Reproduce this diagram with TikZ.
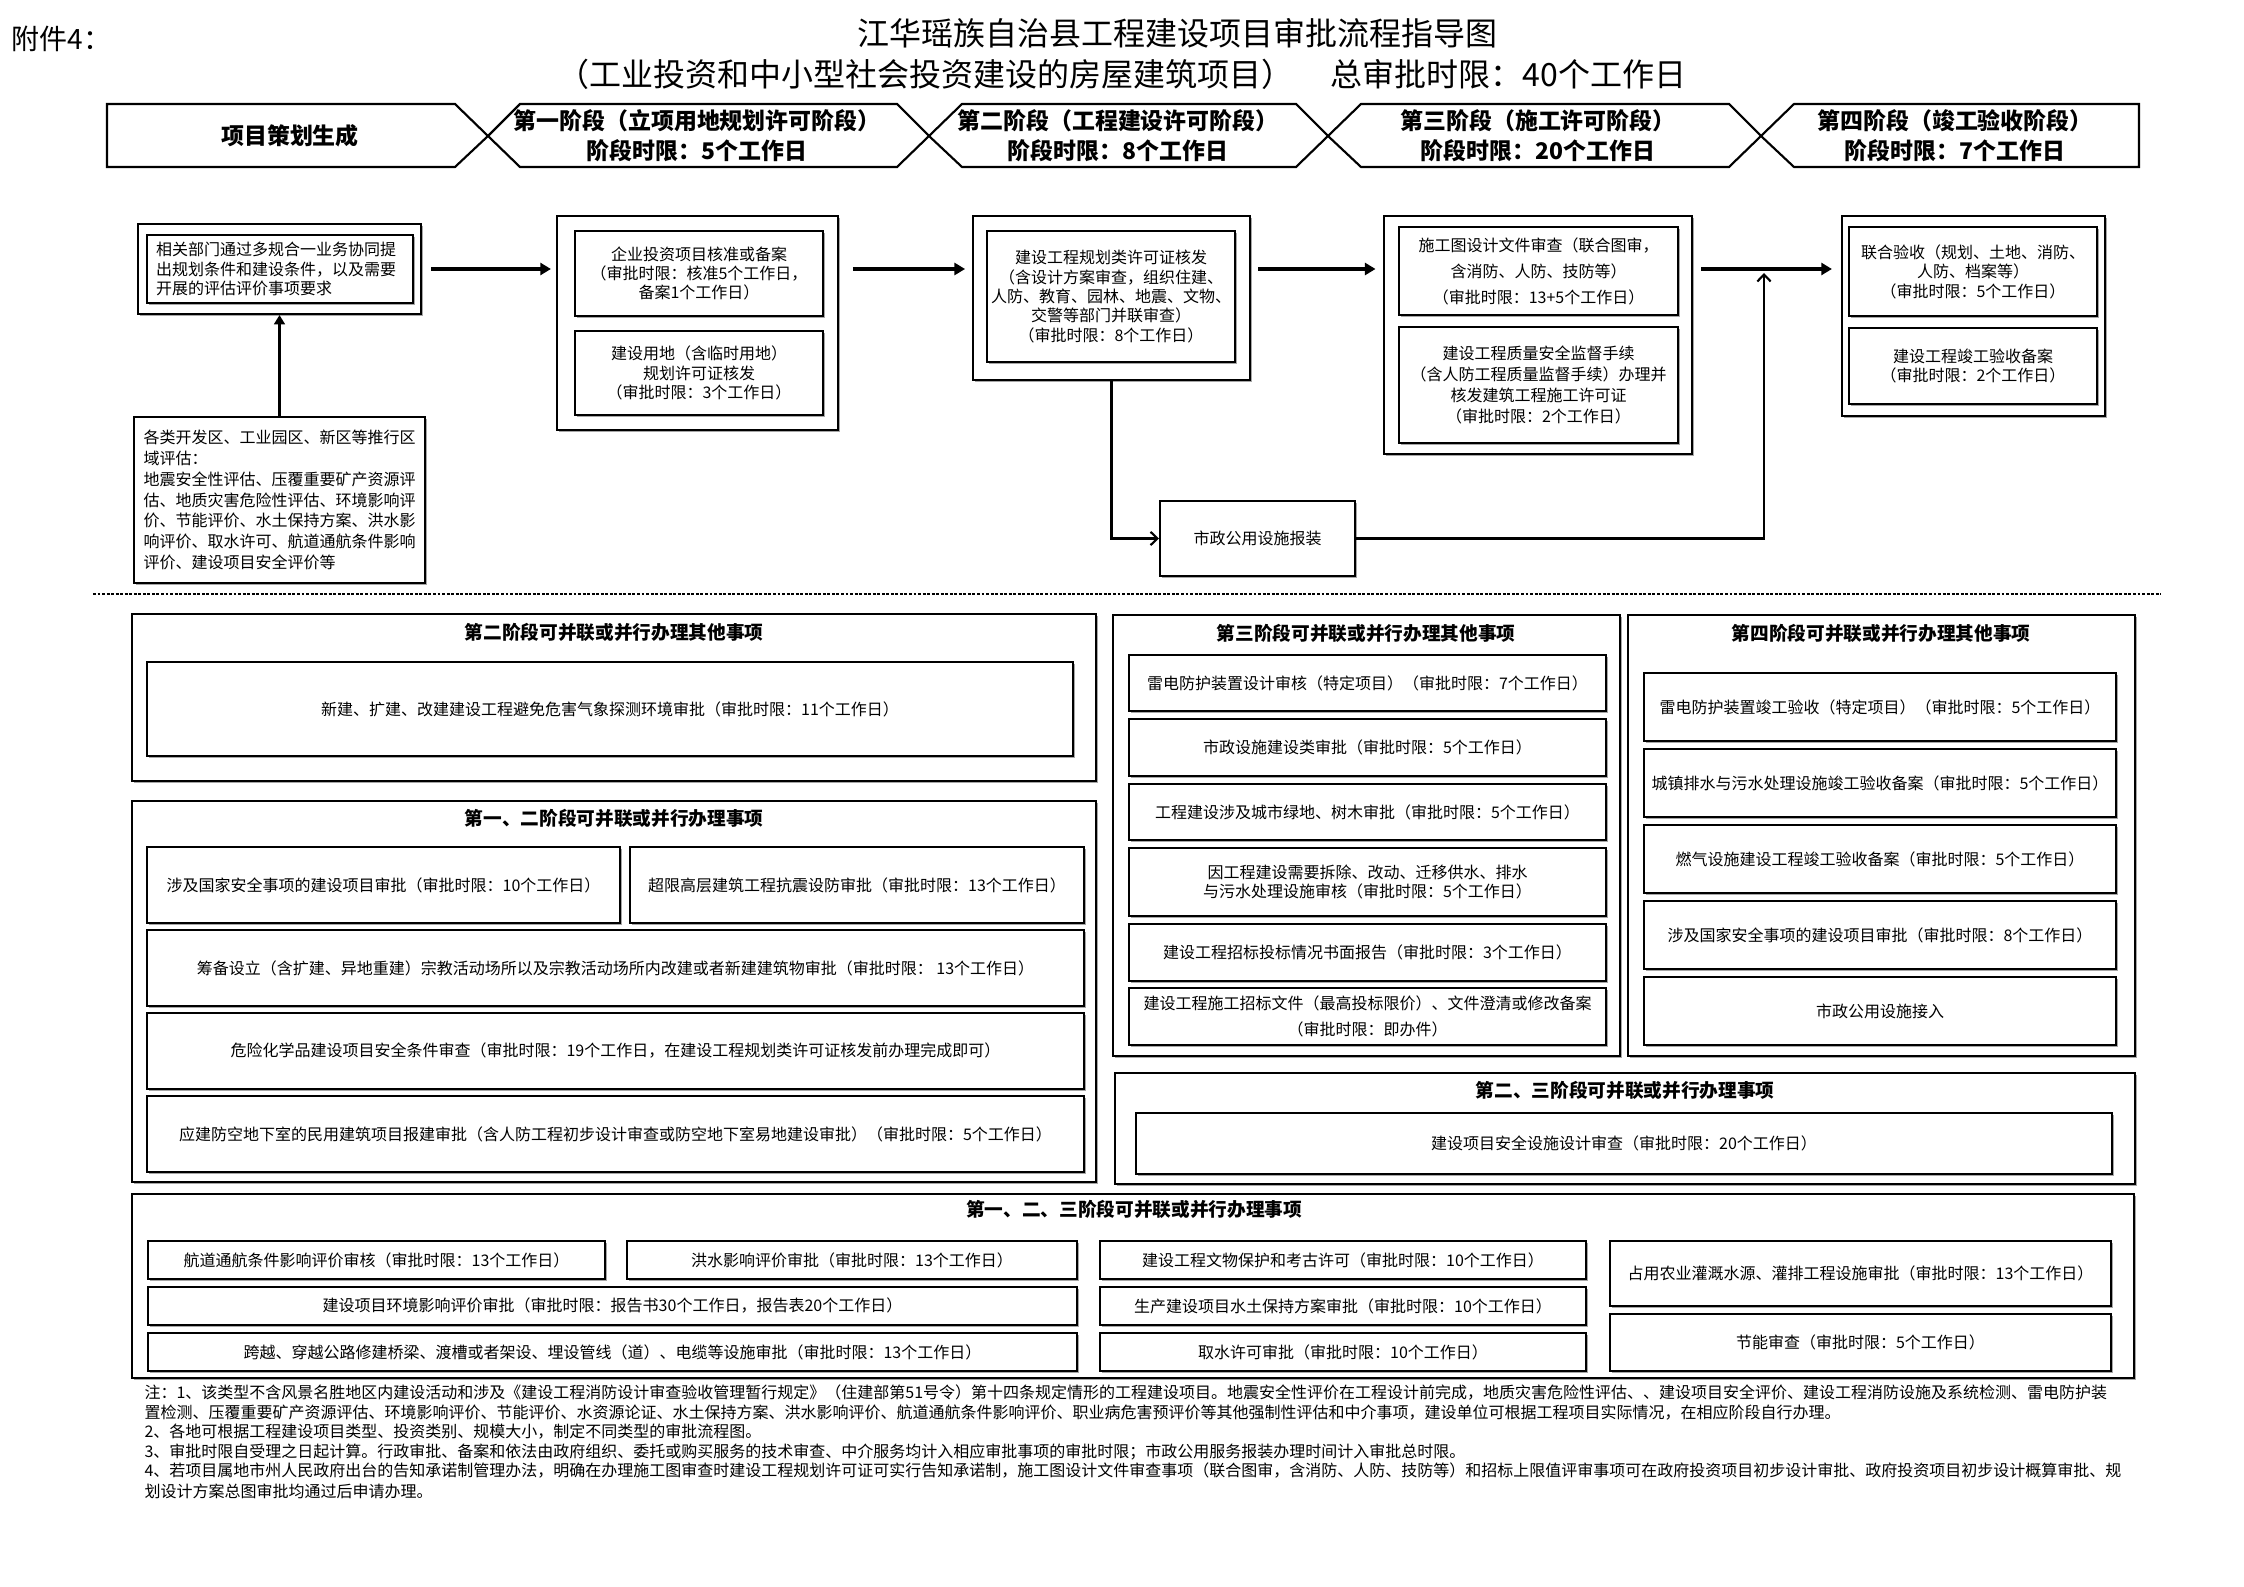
\documentclass[tikz,border=0pt]{standalone}
\usepackage{fontspec}
\setmainfont{Noto Sans CJK SC}
\usetikzlibrary{arrows.meta,shadows}
\newcommand\fsz{\fontsize{6}{7.3}\selectfont}
\newcommand\fhead{\fontsize{7}{8.4}\selectfont\bfseries}
\newcommand\fban{\fontsize{8.6}{11.3}\selectfont\bfseries}
\newcommand\mkbox[7][]{%
  \pgfmathsetmacro\bxcx{(#3+#5)/2}%
  \pgfmathsetmacro\bxcy{(#4+#6)/2}%
  \pgfmathsetmacro\bxw{(#5-#3)*0.375}%
  \pgfmathsetmacro\bxh{(#6-#4)*0.375}%
  \node[box,minimum width=\bxw pt,minimum height=\bxh pt,#1] (#2) at (\bxcx,\bxcy) {#7};%
}
\tikzset{
  box/.style={draw=black, line width=0.75pt, fill=white, inner sep=0pt, align=center, font=\fsz,
    drop shadow={shadow xshift=0.6pt, shadow yshift=-0.6pt, opacity=1, fill=black!35}},
  bannerline/.style={draw=black, line width=0.8pt, line join=miter},
  bantext/.style={font=\fban, align=center, inner sep=0pt},
  head/.style={font=\fhead, inner sep=0pt},
  note/.style={font=\fsz, inner sep=0pt, anchor=west},
  bigarr/.style={line width=1.3pt, -{Triangle[length=4pt,width=4.5pt]}},
  midarr/.style={line width=1pt, -{Triangle[length=3.5pt,width=4pt]}},
  thinarr/.style={line width=0.8pt, -{Straight Barb[length=2.6pt,width=5pt]}},
  sepline/.style={line width=0.6pt, dash pattern=on 1.1pt off 0.6pt}
}
\begin{document}
\begin{tikzpicture}[x=0.375pt,y=-0.375pt]
\fill[white] (0,0) rectangle (2244,1587);
\useasboundingbox (0,0) rectangle (2244,1587);

% header
\node[anchor=west,inner sep=0pt,font=\fontsize{10.5}{12}\selectfont] (att) at (11,39) {附件4：};
\node[inner sep=0pt,font=\fontsize{12}{14}\selectfont] (t1) at (1177,33) {江华瑶族自治县工程建设项目审批流程指导图};
\node[inner sep=0pt,font=\fontsize{12}{14}\selectfont] (t2) at (1122,74) {（工业投资和中小型社会投资建设的房屋建筑项目）\hspace{14pt}总审批时限：40个工作日};

% banner
\draw[bannerline] (107,104) -- (455,104) -- (488,136) -- (455,167) -- (107,167) -- cycle;
\draw[bannerline] (520,104) -- (897,104) -- (929,136) -- (897,167) -- (520,167) -- (488,136) -- cycle;
\draw[bannerline] (962,104) -- (1296,104) -- (1328,136) -- (1296,167) -- (962,167) -- (929,136) -- cycle;
\draw[bannerline] (1361,104) -- (1729,104) -- (1761,136) -- (1729,167) -- (1361,167) -- (1328,136) -- cycle;
\draw[bannerline] (1794,104) -- (2139,104) -- (2139,167) -- (1794,167) -- (1761,136) -- cycle;
\node[bantext] (s0) at (290,136) {项目策划生成};
\node[bantext] (s1) at (697,136) {第一阶段（立项用地规划许可阶段）\\阶段时限：5个工作日};
\node[bantext] (s2) at (1118,136) {第二阶段（工程建设许可阶段）\\阶段时限：8个工作日};
\node[bantext] (s3) at (1538,136) {第三阶段（施工许可阶段）\\阶段时限：20个工作日};
\node[bantext] (s4) at (1955,136) {第四阶段（竣工验收阶段）\\阶段时限：7个工作日};

% main flow
\mkbox{Aout}{138}{224}{421}{314}{}
\mkbox[text width=93pt,align=left]{Ain}{147}{235}{413}{303}{相关部门通过多规合一业务协同提\\出规划条件和建设条件，以及需要\\开展的评估评价事项要求}
\mkbox[text width=102pt,align=left,font=\fontsize{6}{7.8}\selectfont]{B}{134}{417}{425}{583}{各类开发区、工业园区、新区等推行区\\域评估：\\地震安全性评估、压覆重要矿产资源评\\估、地质灾害危险性评估、环境影响评\\价、节能评价、水土保持方案、洪水影\\响评价、取水许可、航道通航条件影响\\评价、建设项目安全评价等}

\mkbox{C}{557}{216}{838}{430}{}
\mkbox{C1}{575}{231}{823}{316}{企业投资项目核准或备案\\（审批时限：核准5个工作日，\\备案1个工作日）}
\mkbox{C2}{575}{331}{823}{415}{建设用地（含临时用地）\\规划许可证核发\\（审批时限：3个工作日）}

\mkbox{D}{973}{216}{1250}{380}{}
\mkbox{Di}{987}{231}{1235}{362}{建设工程规划类许可证核发\\（含设计方案审查，组织住建、\\人防、教育、园林、地震、文物、\\交警等部门并联审查）\\（审批时限：8个工作日）}

\mkbox{E}{1160}{501}{1355}{576}{市政公用设施报装}

\mkbox{F}{1384}{216}{1692}{454}{}
\mkbox[font=\fontsize{6}{9.75}\selectfont]{F1}{1399}{227}{1678}{315}{施工图设计文件审查（联合图审，\\含消防、人防、技防等）\\（审批时限：13+5个工作日）}
\mkbox[font=\fontsize{6}{7.9}\selectfont]{F2}{1399}{327}{1678}{443}{建设工程质量安全监督手续\\（含人防工程质量监督手续）办理并\\核发建筑工程施工许可证\\（审批时限：2个工作日）}

\mkbox{G}{1842}{216}{2105}{416}{}
\mkbox{G1}{1849}{227}{2097}{316}{联合验收（规划、土地、消防、\\人防、档案等）\\（审批时限：5个工作日）}
\mkbox{G2}{1849}{328}{2097}{404}{建设工程竣工验收备案\\（审批时限：2个工作日）}

% connectors
\draw[midarr] (B.north) -- (Aout.south);
\draw[bigarr, shorten <=3.4pt, shorten >=1.9pt] (Aout.east) -- (Aout.east -| C.west);
\draw[bigarr, shorten <=5.2pt, shorten >=2.6pt] (C.east |- Aout.east) -- (D.west |- Aout.east);
\draw[bigarr, shorten <=2.8pt, shorten >=2.8pt] (D.east |- Aout.east) -- (F.west |- Aout.east);
\draw[bigarr, shorten <=3pt, shorten >=3.4pt] (F.east |- Aout.east) -- (G.west |- Aout.east);
\draw[thinarr] (D.south) |- (E.west);
\coordinate (M) at (1764,273);
\draw[thinarr] (E.east) -| (M);

% separator
\draw[sepline] (93,594) -- (2161,594);

% phase 2 others
\mkbox{P2}{132}{614}{1096}{781}{}
\node[head] (P2t) at (614,632) {第二阶段可并联或并行办理其他事项};
\mkbox{P2i}{147}{662}{1073}{756}{新建、扩建、改建建设工程避免危害气象探测环境审批（审批时限：11个工作日）}

% phase 1-2
\mkbox{P12}{132}{801}{1096}{1182}{}
\node[head] (P12t) at (614,818) {第一、二阶段可并联或并行办理事项};
\mkbox{r1a}{147}{847}{620}{923}{涉及国家安全事项的建设项目审批（审批时限：10个工作日）}
\mkbox{r1b}{630}{847}{1084}{923}{超限高层建筑工程抗震设防审批（审批时限：13个工作日）}
\mkbox{r2}{147}{930}{1084}{1006}{筹备设立（含扩建、异地重建）宗教活动场所以及宗教活动场所内改建或者新建建筑物审批（审批时限： 13个工作日）}
\mkbox{r3}{147}{1013}{1084}{1089}{危险化学品建设项目安全条件审查（审批时限：19个工作日，在建设工程规划类许可证核发前办理完成即可）}
\mkbox{r4}{147}{1096}{1084}{1172}{应建防空地下室的民用建筑项目报建审批（含人防工程初步设计审查或防空地下室易地建设审批）（审批时限：5个工作日）}

% phase 3 others
\mkbox{P3}{1113}{615}{1620}{1056}{}
\node[head] (P3t) at (1366,633) {第三阶段可并联或并行办理其他事项};
\mkbox{i1}{1129}{655}{1606}{711}{雷电防护装置设计审核（特定项目）（审批时限：7个工作日）}
\mkbox{i2}{1129}{719}{1606}{776}{市政设施建设类审批（审批时限：5个工作日）}
\mkbox{i3}{1129}{784}{1606}{840}{工程建设涉及城市绿地、树木审批（审批时限：5个工作日）}
\mkbox{i4}{1129}{848}{1606}{916}{因工程建设需要拆除、改动、迁移供水、排水\\与污水处理设施审核（审批时限：5个工作日）}
\mkbox{i5}{1129}{924}{1606}{981}{建设工程招标投标情况书面报告（审批时限：3个工作日）}
\mkbox[font=\fontsize{6}{10}\selectfont]{i6}{1129}{988}{1606}{1045}{建设工程施工招标文件（最高投标限价）、文件澄清或修改备案\\（审批时限：即办件）}

% phase 4 others
\mkbox{P4}{1628}{615}{2135}{1056}{}
\node[head] (P4t) at (1881,633) {第四阶段可并联或并行办理其他事项};
\mkbox{j1}{1644}{673}{2116}{741}{雷电防护装置竣工验收（特定项目）（审批时限：5个工作日）}
\mkbox{j2}{1644}{749}{2116}{817}{城镇排水与污水处理设施竣工验收备案（审批时限：5个工作日）}
\mkbox{j3}{1644}{825}{2116}{893}{燃气设施建设工程竣工验收备案（审批时限：5个工作日）}
\mkbox{j4}{1644}{901}{2116}{969}{涉及国家安全事项的建设项目审批（审批时限：8个工作日）}
\mkbox{j5}{1644}{977}{2116}{1045}{市政公用设施接入}

% phase 2-3
\mkbox{P23}{1115}{1073}{2135}{1184}{}
\node[head] (P23t) at (1625,1090) {第二、三阶段可并联或并行办理事项};
\mkbox{P23i}{1136}{1113}{2112}{1174}{建设项目安全设施设计审查（审批时限：20个工作日）}

% phase 1-2-3
\mkbox{P123}{132}{1194}{2134}{1378}{}
\node[head] (P123t) at (1134,1209) {第一、二、三阶段可并联或并行办理事项};
\mkbox{a1}{148}{1241}{605}{1279}{航道通航条件影响评价审核（审批时限：13个工作日）}
\mkbox{a2}{627}{1241}{1077}{1279}{洪水影响评价审批（审批时限：13个工作日）}
\mkbox{a3}{148}{1287}{1077}{1325}{建设项目环境影响评价审批（审批时限：报告书30个工作日，报告表20个工作日）}
\mkbox{a4}{148}{1333}{1077}{1371}{跨越、穿越公路修建桥梁、渡槽或者架设、埋设管线（道）、电缆等设施审批（审批时限：13个工作日）}
\mkbox{b1}{1100}{1241}{1586}{1279}{建设工程文物保护和考古许可（审批时限：10个工作日）}
\mkbox{b2}{1100}{1287}{1586}{1325}{生产建设项目水土保持方案审批（审批时限：10个工作日）}
\mkbox{b3}{1100}{1333}{1586}{1371}{取水许可审批（审批时限：10个工作日）}
\mkbox{c1}{1610}{1241}{2111}{1306}{占用农业灌溉水源、灌排工程设施审批（审批时限：13个工作日）}
\mkbox{c2}{1610}{1314}{2111}{1371}{节能审查（审批时限：5个工作日）}

% notes
\node[note] (n1) at (144,1393) {注：1、该类型不含风景名胜地区内建设活动和涉及《建设工程消防设计审查验收管理暂行规定》（住建部第51号令）第十四条规定情形的工程建设项目。地震安全性评价在工程设计前完成，地质灾害危险性评估、、建设项目安全评价、建设工程消防设施及系统检测、雷电防护装};
\node[note] (n2) at (144,1413) {置检测、压覆重要矿产资源评估、环境影响评价、节能评价、水资源论证、水土保持方案、洪水影响评价、航道通航条件影响评价、职业病危害预评价等其他强制性评估和中介事项，建设单位可根据工程项目实际情况，在相应阶段自行办理。};
\node[note] (n3) at (144,1432) {2、各地可根据工程建设项目类型、投资类别、规模大小，制定不同类型的审批流程图。};
\node[note] (n4) at (144,1452) {3、审批时限自受理之日起计算。行政审批、备案和依法由政府组织、委托或购买服务的技术审查、中介服务均计入相应审批事项的审批时限；市政公用服务报装办理时间计入审批总时限。};
\node[note] (n5) at (144,1471) {4、若项目属地市州人民政府出台的告知承诺制管理办法，明确在办理施工图审查时建设工程规划许可证可实行告知承诺制，施工图设计文件审查事项（联合图审，含消防、人防、技防等）和招标上限值评审事项可在政府投资项目初步设计审批、政府投资项目初步设计概算审批、规};
\node[note] (n6) at (144,1491) {划设计方案总图审批均通过后申请办理。};
\end{tikzpicture}
\end{document}
